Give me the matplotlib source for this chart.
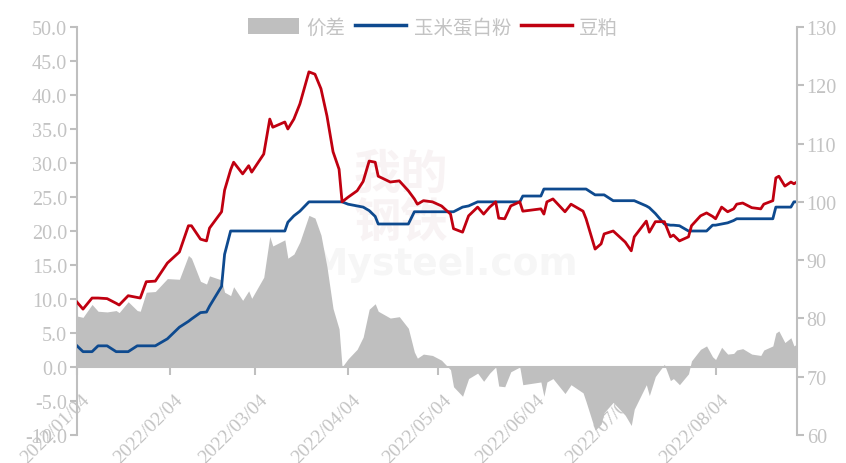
#!/usr/bin/env python3

# plot.py
#
# Corn gluten meal vs soybean meal price index with spread area.
import matplotlib.pyplot as plt
import pandas as pd

from matplotlib.lines import Line2D
from matplotlib.patches import Patch
from matplotlib.transforms import ScaledTranslation

# Note the output filename
IMAGEFILE = 'out.png'

# Note the common properties
GRAY = '#BFBFBF'
TEXT = '#C3C3C3'
BLUE = '#0E4A8F'
RED = '#C00010'
LABELS = ['价差', '玉米蛋白粉', '豆粕']

# Data
dates = [
    '2022-01-04', '2022-01-06', '2022-01-09', '2022-01-11', '2022-01-14', '2022-01-17',
    '2022-01-18', '2022-01-21', '2022-01-24', '2022-01-25', '2022-01-27', '2022-01-30',
    '2022-02-03', '2022-02-07', '2022-02-10', '2022-02-11', '2022-02-14', '2022-02-16',
    '2022-02-17', '2022-02-21', '2022-02-22', '2022-02-24', '2022-02-25', '2022-02-28',
    '2022-03-02', '2022-03-03', '2022-03-07', '2022-03-09', '2022-03-10', '2022-03-14',
    '2022-03-15', '2022-03-17', '2022-03-19', '2022-03-22', '2022-03-24', '2022-03-26',
    '2022-03-28', '2022-03-30', '2022-04-01', '2022-04-02', '2022-04-04', '2022-04-07',
    '2022-04-09', '2022-04-11', '2022-04-13', '2022-04-14', '2022-04-18', '2022-04-21',
    '2022-04-24', '2022-04-26', '2022-04-27', '2022-04-29', '2022-05-02', '2022-05-05',
    '2022-05-08', '2022-05-09', '2022-05-12', '2022-05-14', '2022-05-17', '2022-05-19',
    '2022-05-21', '2022-05-23', '2022-05-24', '2022-05-26', '2022-05-28', '2022-05-31',
    '2022-06-01', '2022-06-07', '2022-06-08', '2022-06-09', '2022-06-11', '2022-06-15',
    '2022-06-17', '2022-06-21', '2022-06-22', '2022-06-25', '2022-06-27', '2022-06-28',
    '2022-07-01', '2022-07-05', '2022-07-07', '2022-07-08', '2022-07-12', '2022-07-13',
    '2022-07-15', '2022-07-18', '2022-07-20', '2022-07-21', '2022-07-23', '2022-07-26',
    '2022-07-27', '2022-07-30', '2022-08-01', '2022-08-03', '2022-08-04', '2022-08-06',
    '2022-08-08', '2022-08-10', '2022-08-11', '2022-08-13', '2022-08-16', '2022-08-19',
    '2022-08-20', '2022-08-23', '2022-08-24', '2022-08-25', '2022-08-27', '2022-08-29',
    '2022-08-30', '2022-08-31',
]

soymeal = [
    82.8, 81.6, 83.5, 83.5, 83.4, 82.6, 82.3, 83.9, 83.6, 83.5, 86.3, 86.4,
    89.5, 91.4, 95.9, 95.9, 93.6, 93.3, 95.5, 98.3, 102.0, 105.5, 106.8, 104.8,
    106.2, 105.1, 108.2, 114.2, 112.8, 113.7, 112.5, 114.2, 116.8, 122.3, 121.9, 119.4,
    114.7, 108.6, 105.6, 100.0, 100.8, 101.9, 103.5, 107.0, 106.8, 104.4, 103.4, 103.6,
    101.9, 100.5, 99.6, 100.2, 100.0, 99.3, 97.9, 95.4, 94.8, 97.6, 99.1, 97.9,
    99.1, 100.0, 97.2, 97.1, 99.3, 100.0, 98.4, 98.8, 97.9, 100.0, 100.5, 98.3,
    99.6, 98.4, 97.1, 91.9, 92.8, 94.5, 95.0, 93.1, 91.6, 94.0, 96.7, 94.8,
    96.6, 96.6, 94.0, 94.3, 93.3, 94.0, 95.9, 97.6, 98.1, 97.5, 97.1, 99.1,
    98.3, 98.8, 99.6, 99.8, 99.0, 98.8, 99.6, 100.2, 104.1, 104.4, 102.7, 103.4,
    103.1, 103.4,
]

corn_gluten = [
    75.3, 74.3, 74.3, 75.3, 75.3, 74.3, 74.3, 74.3, 75.3, 75.3, 75.3, 75.3,
    76.5, 78.5, 79.5, 79.9, 81.0, 81.1, 82.1, 85.5, 91.0, 95.0, 95.0, 95.0,
    95.0, 95.0, 95.0, 95.0, 95.0, 95.0, 96.5, 97.6, 98.4, 100.0, 100.0, 100.0,
    100.0, 100.0, 100.0, 100.0, 99.6, 99.3, 99.1, 98.5, 97.5, 96.2, 96.2, 96.2,
    96.2, 98.3, 98.3, 98.3, 98.3, 98.3, 98.3, 98.3, 99.1, 99.3, 100.0, 100.0,
    100.0, 100.0, 100.0, 100.0, 100.0, 100.0, 101.0, 101.0, 102.2, 102.2, 102.2, 102.2,
    102.2, 102.2, 102.2, 101.2, 101.2, 101.2, 100.2, 100.2, 100.2, 100.2, 99.3, 99.0,
    98.0, 96.2, 96.0, 96.0, 95.9, 95.0, 95.0, 95.0, 95.0, 96.0, 96.0, 96.2,
    96.4, 96.8, 97.1, 97.1, 97.1, 97.1, 97.1, 97.1, 99.1, 99.1, 99.1, 99.1,
    100.0, 100.0,
]

spread = [
    7.5, 7.3, 9.2, 8.2, 8.1, 8.3, 8.0, 9.6, 8.3, 8.2, 11.0, 11.1,
    13.0, 12.9, 16.4, 16.0, 12.6, 12.2, 13.4, 12.8, 11.0, 10.5, 11.8, 9.8,
    11.2, 10.1, 13.2, 19.2, 17.8, 18.7, 16.0, 16.6, 18.4, 22.3, 21.9, 19.4,
    14.7, 8.6, 5.6, 0.0, 1.2, 2.6, 4.4, 8.5, 9.3, 8.2, 7.2, 7.4,
    5.7, 2.2, 1.3, 1.9, 1.7, 1.0, -0.4, -2.9, -4.3, -1.7, -0.9, -2.1,
    -0.9, 0.0, -2.8, -2.9, -0.7, 0.0, -2.6, -2.2, -4.3, -2.2, -1.7, -3.9,
    -2.6, -3.8, -5.1, -9.3, -8.4, -6.7, -5.2, -7.1, -8.6, -6.2, -2.6, -4.2,
    -1.4, 0.4, -2.0, -1.7, -2.6, -1.0, 0.9, 2.6, 3.1, 1.5, 1.1, 2.9,
    1.9, 2.0, 2.5, 2.7, 1.9, 1.7, 2.5, 3.1, 5.0, 5.3, 3.6, 4.3,
    3.1, 3.4,
]

tick_dates = ['2022-01-04', '2022-02-04', '2022-03-04', '2022-04-04',
              '2022-05-04', '2022-06-04', '2022-07-04', '2022-08-04']
tick_labels = ['2022/01/04', '2022/02/04', '2022/03/04', '2022/04/04',
               '2022/05/04', '2022/06/04', '2022/07/04', '2022/08/04']

left_ticks = [-10, -5, 0, 5, 10, 15, 20, 25, 30, 35, 40, 45, 50]
right_ticks = [60, 70, 80, 90, 100, 110, 120, 130]

# Fonts: Times-like digits, CJK fallback
plt.rcParams['font.family'] = ['Liberation Serif', 'Noto Sans CJK SC']
plt.rcParams['axes.unicode_minus'] = False

x = pd.to_datetime(dates)

# Prepare the figure to work with
fig = plt.figure(figsize=(8.46, 4.64), dpi=100)
ax = fig.add_axes([0.091, 0.0603, 0.851, 0.8794])
ax2 = ax.twinx()

# Spread area on the left axis
ax.fill_between(x, spread, 0, color=GRAY, lw=0, zorder=1)
ax.set_ylim(-10, 50)
ax.set_yticks(left_ticks)
ax.set_yticklabels(['{:.1f}'.format(v) for v in left_ticks])
ax.set_xlim(x[0], x[-1])
ax.set_axisbelow(True)

# Price lines on the right axis
ax2.plot(x, corn_gluten, color=BLUE, lw=2.0, solid_joinstyle='round')
ax2.plot(x, soymeal, color=RED, lw=2.0, solid_joinstyle='round')
ax2.set_ylim(60, 130)
ax2.set_yticks(right_ticks)

# Spines and ticks
for side in ['top', 'right']:
    ax.spines[side].set_visible(False)
for side in ['top', 'left', 'bottom']:
    ax2.spines[side].set_visible(False)
ax.spines['left'].set_color(GRAY)
ax.spines['left'].set_linewidth(1.5)
ax.spines['bottom'].set_position(('data', 0))
ax.spines['bottom'].set_color(GRAY)
ax.spines['bottom'].set_linewidth(1.5)
ax2.spines['right'].set_color(GRAY)
ax2.spines['right'].set_linewidth(1.5)

ax.tick_params(axis='y', colors=GRAY, labelcolor=TEXT, labelsize=14.5,
               length=5, width=1.5, pad=2)
ax2.tick_params(axis='y', colors=GRAY, labelcolor=TEXT, labelsize=14.5,
                length=5, width=1.5, pad=2)

ax.set_xticks(pd.to_datetime(tick_dates))
ax.set_xticklabels(tick_labels)
ax.tick_params(axis='x', colors=GRAY, labelcolor=TEXT, labelsize=14,
               length=6, width=1.5, pad=11)
shift = ScaledTranslation(4 / 100, 0, fig.dpi_scale_trans)
for lbl in ax.get_xticklabels():
    lbl.set_rotation(45)
    lbl.set_ha('right')
    lbl.set_va('top')
    lbl.set_rotation_mode('anchor')
    lbl.set_transform(lbl.get_transform() + shift)

# Faint watermark
ax.text(0.45, 0.58, '我的\n钢铁', transform=ax.transAxes, ha='center', va='center',
        fontsize=34, color='#F8F3F4', family=['Noto Sans CJK SC'], fontweight='bold',
        linespacing=1.0, zorder=0)
ax.text(0.51, 0.42, 'Mysteel.com', transform=ax.transAxes, ha='center', va='center',
        fontsize=27, color='#F6F6F6', family=['DejaVu Sans'], fontweight='bold', zorder=0)

# Legend at the top
handles = [Patch(facecolor=GRAY, edgecolor='none'),
           Line2D([], [], color=BLUE, lw=2.5),
           Line2D([], [], color=RED, lw=2.5)]
leg = ax2.legend(handles, LABELS, loc='center', bbox_to_anchor=(0.495, 1.0), ncol=3,
                 frameon=False, handlelength=2.6, handleheight=0.9,
                 handletextpad=0.4, columnspacing=0.5,
                 prop={'family': ['Noto Sans CJK SC'], 'size': 14})
for txt in leg.get_texts():
    txt.set_color(TEXT)

# Save the figure to disk
fig.savefig(IMAGEFILE, dpi=100)
